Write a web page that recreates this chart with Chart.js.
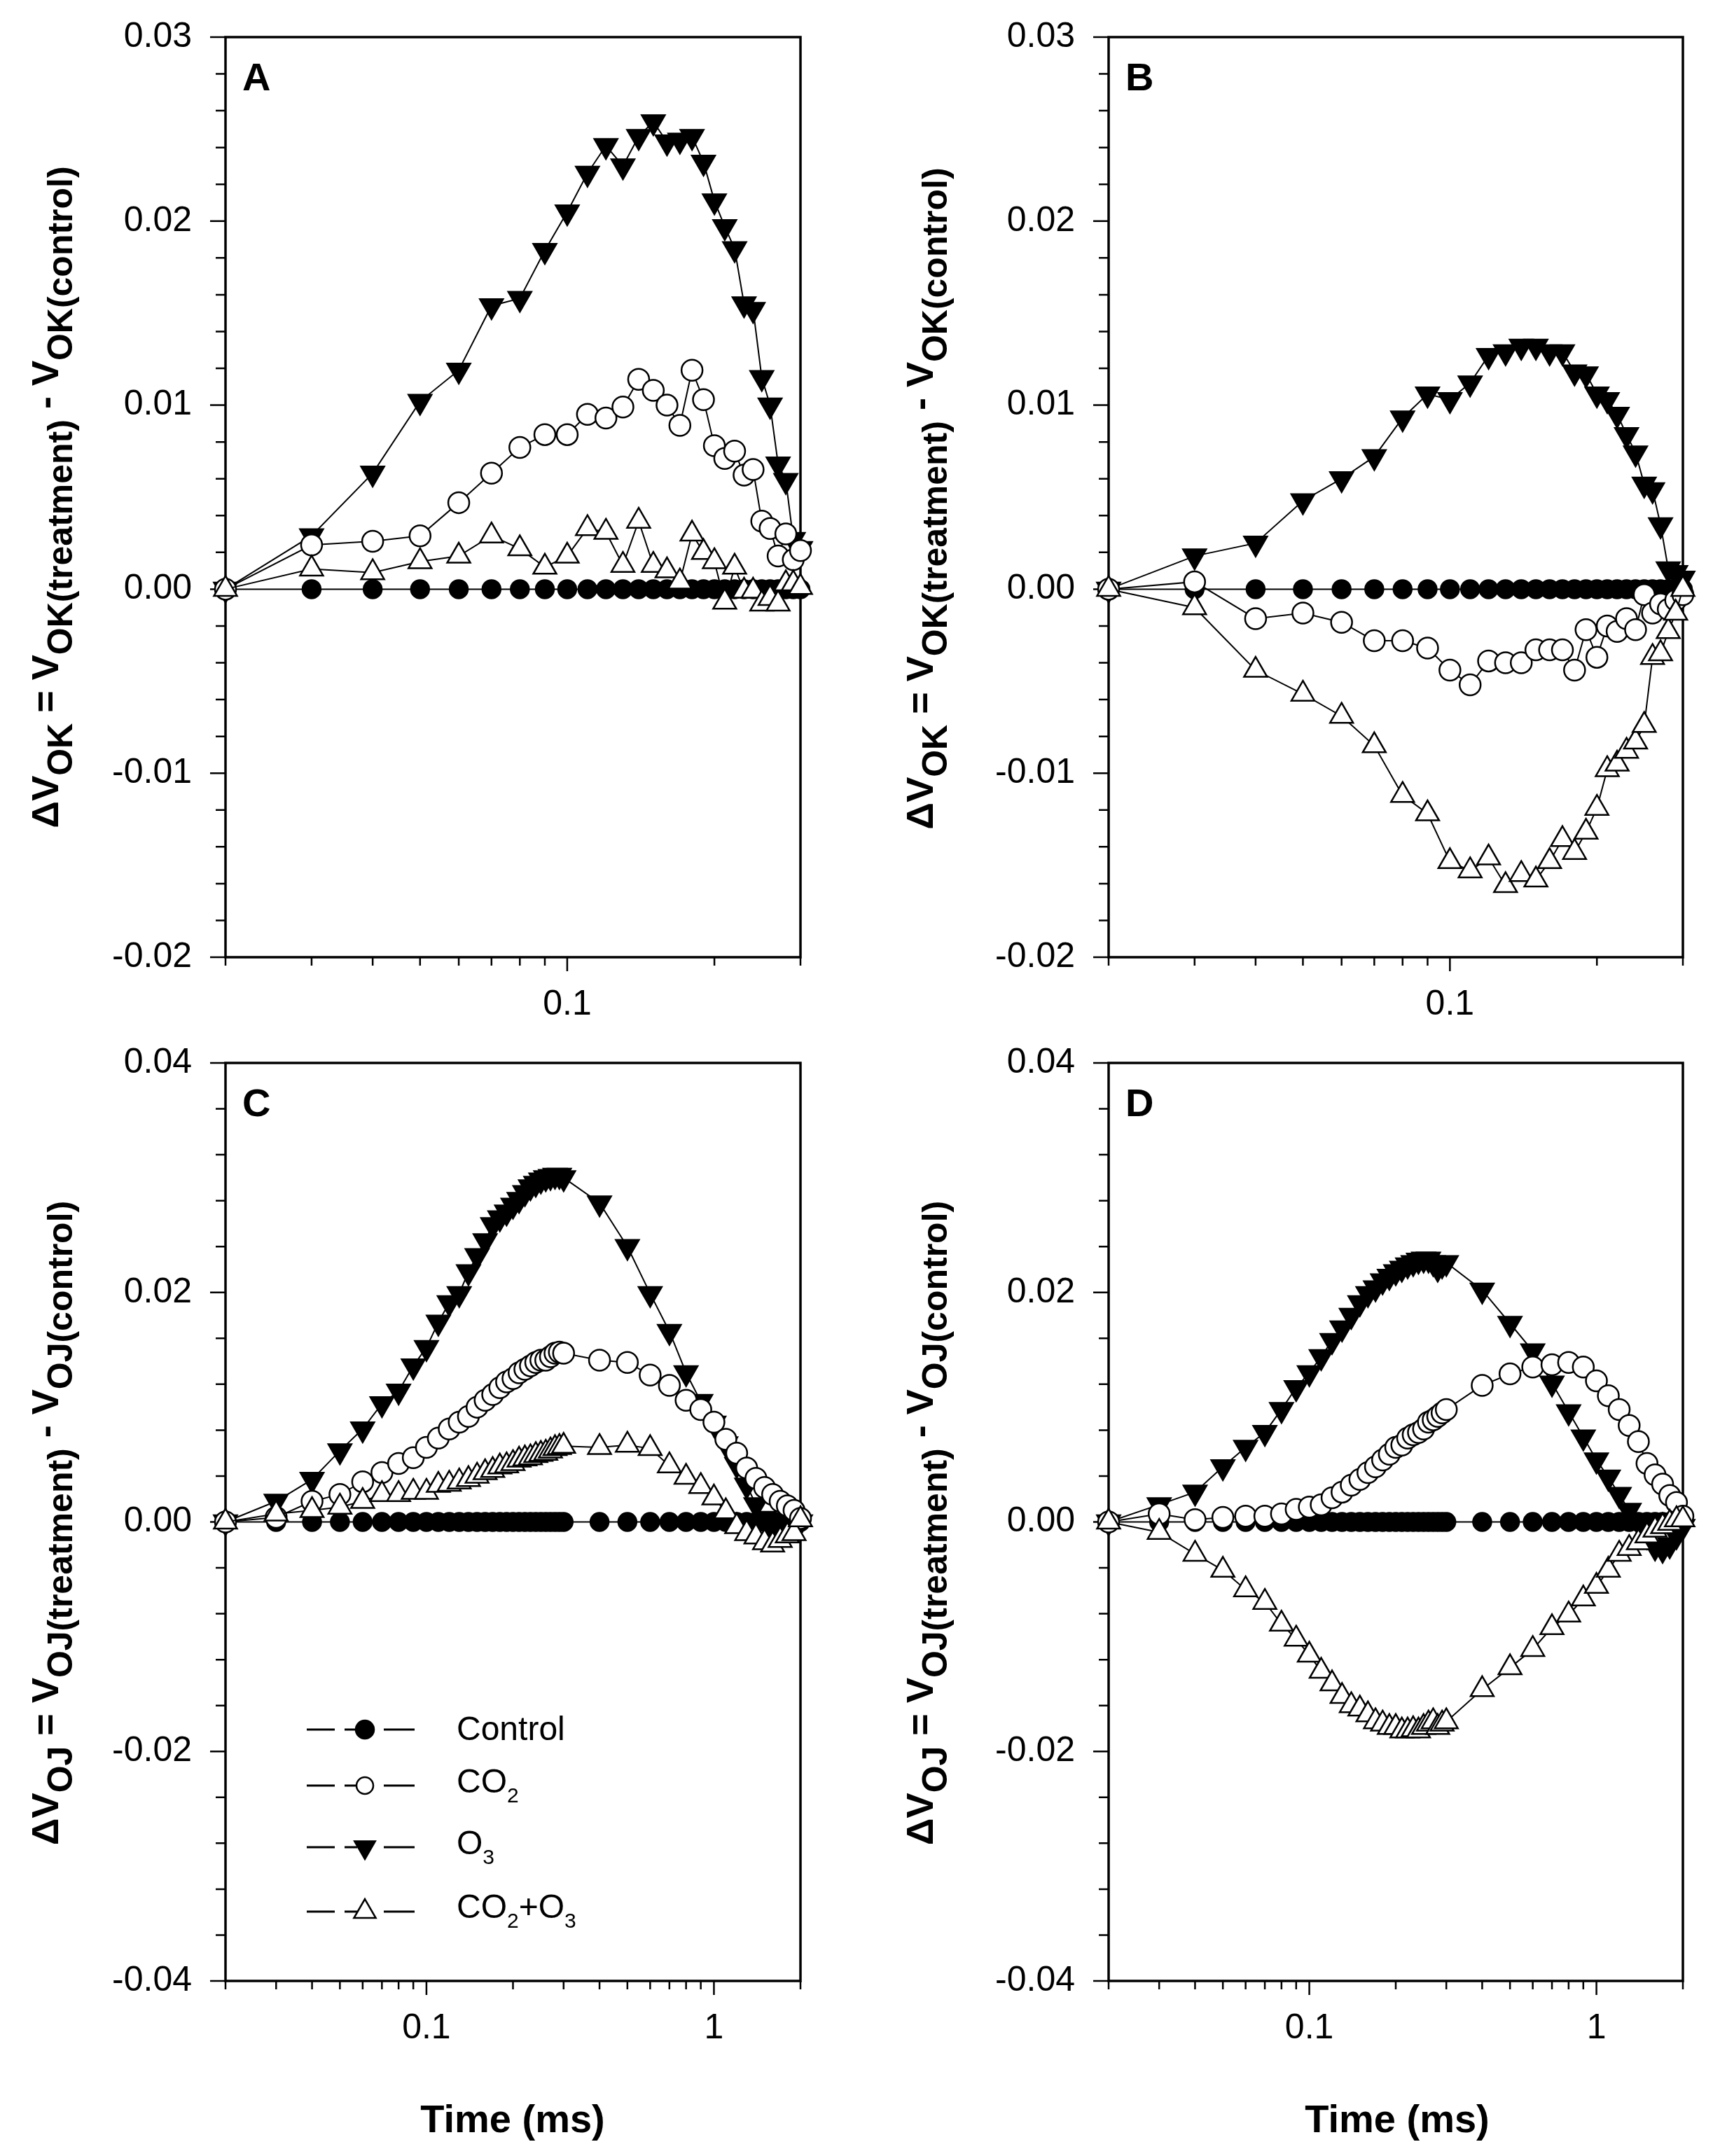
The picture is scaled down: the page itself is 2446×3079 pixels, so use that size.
<!DOCTYPE html>
<html>
<head>
<meta charset="utf-8">
<script src="https://cdn.jsdelivr.net/npm/chart.js@4.4.1/dist/chart.umd.min.js"></script>
<style>
  html, body { margin:0; padding:0; background:#fff; }
  body { width:2446px; height:3079px; position:relative; overflow:hidden; font-family:"Liberation Sans", Arial, sans-serif; color:#000; }
  canvas { position:absolute; }
  .ytitle { position:absolute; font-weight:bold; font-size:54px; line-height:1; white-space:nowrap;
            transform: translate(-50%,-50%) rotate(-90deg); }
  .ytitle .s { font-size:50px; position:relative; top:20px; }
  .xtitle { position:absolute; font-weight:bold; font-size:56px; line-height:1; white-space:nowrap;
            transform: translate(-50%,-50%); }
  .leg { position:absolute; font-size:48px; line-height:48px; white-space:nowrap; }
  .leg sub { font-size:30px; vertical-align:-14px; line-height:0; }
</style>
</head>
<body>
<canvas id="cA" width="1080" height="1500" style="left:140px;top:0px"></canvas>
<canvas id="cB" width="1046" height="1500" style="left:1400px;top:0px"></canvas>
<canvas id="cC" width="1080" height="1530" style="left:140px;top:1440px"></canvas>
<canvas id="cD" width="1046" height="1530" style="left:1400px;top:1440px"></canvas>

<div class="ytitle" style="left:64px;top:710px">&Delta;V<span class="s">OK</span> = V<span class="s">OK(treatment)</span> - V<span class="s">OK(control)</span></div>
<div class="ytitle" style="left:1313px;top:712px">&Delta;V<span class="s">OK</span> = V<span class="s">OK(treatment)</span> - V<span class="s">OK(control)</span></div>
<div class="ytitle" style="left:64px;top:2175px">&Delta;V<span class="s">OJ</span> = V<span class="s">OJ(treatment)</span> - V<span class="s">OJ(control)</span></div>
<div class="ytitle" style="left:1313px;top:2175px">&Delta;V<span class="s">OJ</span> = V<span class="s">OJ(treatment)</span> - V<span class="s">OJ(control)</span></div>

<div class="xtitle" style="left:732px;top:3026px">Time (ms)</div>
<div class="xtitle" style="left:1995px;top:3026px">Time (ms)</div>

<div class="leg" style="left:652px;top:2445px">Control</div>
<div class="leg" style="left:652px;top:2520px">CO<sub>2</sub></div>
<div class="leg" style="left:652px;top:2608px">O<sub>3</sub></div>
<div class="leg" style="left:652px;top:2699px">CO<sub>2</sub>+O<sub>3</sub></div>

<script>
// ---------------- DATA ----------------
const seriesNames = ["Control", "CO2", "O3", "CO2+O3"];

// time points (ms) for panels A, B (O-K phase)
const timeAB = [0.02,0.03,0.04,0.05,0.06,0.07,0.08,0.09,0.10,0.11,0.12,0.13,0.14,0.15,0.16,0.17,0.18,0.19,0.20,0.21,0.22,0.23,0.24,0.25,0.26,0.27,0.28,0.29,0.30];
// time points (ms) for panels C, D (O-J phase)
const timeCD = [0.02,0.03,0.04,0.05,0.06,0.07,0.08,0.09,0.10,0.11,0.12,0.13,0.14,0.15,0.16,0.17,0.18,0.19,0.20,0.21,0.22,0.23,0.24,0.25,0.26,0.27,0.28,0.29,0.30,
                0.4,0.5,0.6,0.7,0.8,0.9,1.0,1.1,1.2,1.3,1.4,1.5,1.6,1.7,1.8,1.9,2.0];

// Panel A
const aControl = [0,0,0,0,0,0,0,0,0,0,0,0,0,0,0,0,0,0,0,0,0,0,0,0,0,0,0,0,0];
const aCO2   = [0,0.0024,0.0026,0.0029,0.0047,0.0063,0.0077,0.0084,0.0084,0.0095,0.0093,0.0099,0.0114,0.0108,0.0100,0.0089,0.0119,0.0103,0.0078,0.0071,0.0075,0.0062,0.0065,0.0037,0.0033,0.0018,0.0030,0.0016,0.0021];
const aO3    = [0,0.0029,0.0063,0.0102,0.0119,0.0154,0.0158,0.0184,0.0205,0.0226,0.0241,0.0230,0.0246,0.0254,0.0243,0.0244,0.0246,0.0232,0.0211,0.0197,0.0185,0.0155,0.0152,0.0115,0.0100,0.0068,0.0059,0.0027,0.0022];
const aCO2O3 = [0,0.0011,0.0009,0.0015,0.0018,0.0029,0.0022,0.0012,0.0018,0.0033,0.0031,0.0013,0.0037,0.0013,0.0010,0.0004,0.0030,0.0020,0.0015,-0.0007,0.0012,-0.0001,-0.0001,-0.0008,-0.0005,-0.0008,0.0003,0.0003,0.0001];

// Panel B
const bControl = [0,0,0,0,0,0,0,0,0,0,0,0,0,0,0,0,0,0,0,0,0,0,0,0,0,0,0,0,0];
const bCO2   = [0,0.0004,-0.0016,-0.0013,-0.0018,-0.0028,-0.0028,-0.0032,-0.0044,-0.0052,-0.0039,-0.0040,-0.0040,-0.0033,-0.0033,-0.0033,-0.0044,-0.0022,-0.0037,-0.0020,-0.0023,-0.0016,-0.0022,-0.0003,-0.0013,-0.0008,-0.0011,-0.0006,-0.0003];
const bO3    = [0,0.0018,0.0025,0.0048,0.0060,0.0072,0.0093,0.0106,0.0103,0.0112,0.0127,0.0129,0.0132,0.0132,0.0129,0.0129,0.0118,0.0117,0.0106,0.0103,0.0095,0.0084,0.0074,0.0057,0.0054,0.0035,0.0011,0.0009,0.0006];
const bCO2O3 = [0,-0.0010,-0.0044,-0.0057,-0.0069,-0.0085,-0.0112,-0.0122,-0.0148,-0.0153,-0.0146,-0.0161,-0.0155,-0.0158,-0.0148,-0.0136,-0.0143,-0.0132,-0.0119,-0.0098,-0.0095,-0.0088,-0.0083,-0.0074,-0.0037,-0.0035,-0.0023,-0.0013,0];

// Panel C
const cControl = [0,0,0,0,0,0,0,0,0,0,0,0,0,0,0,0,0,0,0,0,0,0,0,0,0,0,0,0,0,0,0,0,0,0,0,0,0,0,0,0,0,0,0,0,0,0];
const cCO2   = [0,0.0004,0.0018,0.0024,0.0035,0.0043,0.0051,0.0056,0.0065,0.0073,0.0081,0.0087,0.0092,0.0100,0.0106,0.0111,0.0117,0.0122,0.0125,0.0130,0.0133,0.0136,0.0139,0.0141,0.0141,0.0144,0.0147,0.0148,0.0147,
                0.0141,0.0139,0.0128,0.0119,0.0106,0.0098,0.0087,0.0072,0.0060,0.0047,0.0038,0.0030,0.0024,0.0018,0.0014,0.0010,0.0003];
const cO3    = [0,0.0018,0.0037,0.0062,0.0081,0.0103,0.0114,0.0136,0.0152,0.0174,0.0191,0.0199,0.0218,0.0232,0.0245,0.0259,0.0265,0.0270,0.0276,0.0281,0.0287,0.0292,0.0295,0.0298,0.0300,0.0301,0.0302,0.0302,0.0300,
                0.0278,0.0240,0.0199,0.0166,0.0130,0.0105,0.0086,0.0068,0.0050,0.0032,0.0015,0.0003,-0.0005,-0.0009,-0.0009,-0.0005,0];
const cCO2O3 = [0,0.0007,0.0010,0.0013,0.0018,0.0024,0.0024,0.0026,0.0026,0.0032,0.0033,0.0035,0.0037,0.0040,0.0043,0.0045,0.0048,0.0049,0.0051,0.0054,0.0055,0.0056,0.0058,0.0059,0.0060,0.0062,0.0064,0.0065,0.0066,
                0.0065,0.0067,0.0064,0.0049,0.0039,0.0031,0.0021,0.0009,-0.0004,-0.0010,-0.0013,-0.0018,-0.0020,-0.0016,-0.0012,-0.0010,0.0002];

// Panel D
const dControl = [0,0,0,0,0,0,0,0,0,0,0,0,0,0,0,0,0,0,0,0,0,0,0,0,0,0,0,0,0,0,0,0,0,0,0,0,0,0,0,0,0,0,0,0,0,0];
const dCO2   = [0,0.0007,0.0002,0.0004,0.0005,0.0005,0.0007,0.0011,0.0013,0.0015,0.0021,0.0026,0.0032,0.0037,0.0043,0.0048,0.0054,0.0059,0.0065,0.0067,0.0073,0.0076,0.0078,0.0081,0.0087,0.0089,0.0092,0.0095,0.0098,
                0.0119,0.0129,0.0135,0.0137,0.0139,0.0135,0.0123,0.0110,0.0098,0.0084,0.0070,0.0051,0.0041,0.0033,0.0023,0.0017,0.0005];
const dO3    = [0,0.0015,0.0026,0.0048,0.0065,0.0078,0.0098,0.0117,0.0130,0.0144,0.0158,0.0169,0.0180,0.0191,0.0199,0.0204,0.0210,0.0214,0.0218,0.0221,0.0224,0.0226,0.0228,0.0229,0.0229,0.0226,0.0221,0.0224,0.0226,
                0.0202,0.0173,0.0149,0.0121,0.0096,0.0074,0.0054,0.0039,0.0024,0.0010,0.0000,-0.0012,-0.0022,-0.0024,-0.0020,-0.0012,-0.0004];
const dCO2O3 = [0,-0.0009,-0.0028,-0.0042,-0.0059,-0.0070,-0.0089,-0.0102,-0.0116,-0.0130,-0.0141,-0.0152,-0.0160,-0.0163,-0.0168,-0.0174,-0.0176,-0.0179,-0.0179,-0.0182,-0.0182,-0.0181,-0.0182,-0.0179,-0.0176,-0.0174,-0.0179,-0.0176,-0.0174,
                -0.0146,-0.0127,-0.0111,-0.0092,-0.0081,-0.0067,-0.0056,-0.0042,-0.0028,-0.0023,-0.0018,-0.0012,-0.0007,-0.0004,-0.0001,0.0002,0.0002];

// ticks
const xTicksAB = [0.02,0.03,0.04,0.05,0.06,0.07,0.08,0.09,0.1,0.2,0.3];
const xTicksCD = [0.02,0.03,0.04,0.05,0.06,0.07,0.08,0.09,0.1,0.2,0.3,0.4,0.5,0.6,0.7,0.8,0.9,1,2];
const xLabelTicks = [0.1, 1];
const yMajorAB = [-0.02,-0.01,0.00,0.01,0.02,0.03];
const yMajorCD = [-0.04,-0.02,0.00,0.02,0.04];
const yMinorStepAB = 0.002;
const yMinorStepCD = 0.004;

// ---------------- CHART ----------------
const FONT = '"Liberation Sans", Arial, sans-serif';
const YW = 180, XH = 130;

function buildYTicks(majors, step) {
  const lo = majors[0], hi = majors[majors.length - 1];
  const n = Math.round((hi - lo) / step);
  const out = [];
  for (let i = 0; i <= n; i++) out.push(Math.round((lo + i * step) * 10000) / 10000);
  return out;
}
const near = (a, b) => Math.abs(a - b) < 1e-9;
const isIn = (arr, v) => arr.some(m => near(m, v));

const framePlugin = {
  id: 'frame',
  beforeDatasetsDraw(chart, args, o) {
    const { ctx, chartArea: a } = chart;
    const x = chart.scales.x, y = chart.scales.y;
    ctx.save();
    ctx.strokeStyle = '#000';
    ctx.lineWidth = 2.5;
    ctx.beginPath();
    for (const v of o.xTicks) {
      const px = x.getPixelForValue(v);
      const len = isIn(xLabelTicks, v) ? 20 : 12;
      ctx.moveTo(px, a.bottom); ctx.lineTo(px, a.bottom + len);
    }
    for (const v of o.yTicks) {
      const py = y.getPixelForValue(v);
      const len = isIn(o.yMajor, v) ? 22 : 14;
      ctx.moveTo(a.left, py); ctx.lineTo(a.left - len, py);
    }
    ctx.stroke();
    ctx.lineWidth = 3.5;
    ctx.strokeRect(a.left, a.top, a.right - a.left, a.bottom - a.top);
    ctx.fillStyle = '#000';
    ctx.font = 'bold 56px ' + FONT;
    ctx.textBaseline = 'alphabetic';
    ctx.textAlign = 'left';
    ctx.fillText(o.letter, a.left + 24, a.top + 76);
    ctx.restore();
  }
};

function drawMarker(ctx, style, x, y, r, fill) {
  ctx.beginPath();
  if (style === 'circle') {
    ctx.arc(x, y, r, 0, Math.PI * 2);
  } else {
    const dir = style === 'down' ? -1 : 1;
    ctx.moveTo(x, y - dir * r);
    ctx.lineTo(x + r * 0.866, y + dir * r * 0.5);
    ctx.lineTo(x - r * 0.866, y + dir * r * 0.5);
    ctx.closePath();
  }
  ctx.fillStyle = fill ? '#000' : '#fff';
  ctx.fill();
  ctx.stroke();
}

const legendPlugin = {
  id: 'legendC',
  afterDatasetsDraw(chart, args, o) {
    if (!o.show) return;
    const ctx = chart.ctx;
    const ox = o.offX, oy = o.offY;
    const rows = [
      { y: 2470, style: 'circle', fill: true, r: 13 },
      { y: 2550, style: 'circle', fill: false, r: 12 },
      { y: 2638, style: 'down', fill: true, r: 17 },
      { y: 2730, style: 'up', fill: false, r: 18 }
    ];
    ctx.save();
    ctx.strokeStyle = '#000';
    for (const row of rows) {
      const yy = row.y - oy;
      ctx.lineWidth = 3;
      ctx.beginPath();
      ctx.moveTo(438 - ox, yy); ctx.lineTo(478 - ox, yy);
      ctx.moveTo(492 - ox, yy); ctx.lineTo(510 - ox, yy);
      ctx.moveTo(548 - ox, yy); ctx.lineTo(592 - ox, yy);
      ctx.stroke();
      ctx.lineWidth = 2.5;
      drawMarker(ctx, row.style, 521 - ox, yy, row.r, row.fill);
    }
    ctx.restore();
  }
};

function ds(label, time, vals, style, filled, order) {
  const tri = style !== 'circle';
  return {
    label: label,
    data: time.map((t, i) => ({ x: t, y: vals[i] })),
    borderColor: '#000',
    borderWidth: 2,
    backgroundColor: filled ? '#000' : '#fff',
    pointBackgroundColor: filled ? '#000' : '#fff',
    pointBorderColor: '#000',
    pointBorderWidth: 2.5,
    pointStyle: tri ? 'triangle' : 'circle',
    pointRotation: style === 'down' ? 180 : 0,
    pointRadius: tri ? 19 : (filled ? 13 : 15),
    tension: 0,
    fill: false,
    clip: false,
    order: order
  };
}

const hiddenGrid = (len) => ({
  display: true, drawOnChartArea: false, drawTicks: true, tickLength: len,
  color: 'rgba(0,0,0,0)', tickColor: 'rgba(0,0,0,0)', lineWidth: 0
});

function makePanel(id, cfg) {
  const canvas = document.getElementById(id);
  const cx = parseFloat(canvas.style.left), cy = parseFloat(canvas.style.top);
  const cw = canvas.width, ch = canvas.height;
  const yTicks = buildYTicks(cfg.yMajor, cfg.yStep);
  const ymin = cfg.yMajor[0], ymax = cfg.yMajor[cfg.yMajor.length - 1];
  new Chart(canvas, {
    type: 'line',
    data: {
      datasets: [
        ds(seriesNames[0], cfg.time, cfg.series[0], 'circle', true, 4),
        ds(seriesNames[1], cfg.time, cfg.series[1], 'circle', false, 2),
        ds(seriesNames[2], cfg.time, cfg.series[2], 'down', true, 3),
        ds(seriesNames[3], cfg.time, cfg.series[3], 'up', false, 1)
      ]
    },
    options: {
      responsive: false,
      animation: false,
      devicePixelRatio: 1,
      events: [],
      layout: {
        padding: {
          left: cfg.area.l - cx - YW,
          top: cfg.area.t - cy,
          right: cx + cw - cfg.area.r,
          bottom: cy + ch - cfg.area.b - XH
        }
      },
      plugins: {
        legend: { display: false },
        tooltip: { enabled: false },
        frame: { xTicks: cfg.xTicks, yTicks: yTicks, yMajor: cfg.yMajor, letter: cfg.letter },
        legendC: { show: !!cfg.legend, offX: cx, offY: cy }
      },
      scales: {
        x: {
          type: 'logarithmic',
          min: cfg.xmin, max: cfg.xmax,
          grid: hiddenGrid(32),
          border: { display: false },
          afterBuildTicks: s => { s.ticks = cfg.xTicks.map(v => ({ value: v })); },
          afterFit: s => { s.height = XH; },
          ticks: {
            autoSkip: false, maxRotation: 0, minRotation: 0,
            padding: 6, color: '#000',
            font: { family: FONT, size: 50 },
            callback: v => isIn(xLabelTicks, v) ? String(v) : ''
          }
        },
        y: {
          type: 'linear',
          min: ymin, max: ymax,
          grid: hiddenGrid(40),
          border: { display: false },
          afterBuildTicks: s => { s.ticks = yTicks.map(v => ({ value: v })); },
          afterFit: s => { s.width = YW; },
          ticks: {
            autoSkip: false, padding: 8, color: '#000',
            font: { family: FONT, size: 50 },
            callback: v => isIn(cfg.yMajor, v) ? Number(v).toFixed(2) : ''
          }
        }
      }
    },
    plugins: [framePlugin, legendPlugin]
  });
}

makePanel('cA', { letter: 'A', time: timeAB, series: [aControl, aCO2, aO3, aCO2O3],
  area: { l: 322, t: 53, r: 1143, b: 1367 }, xmin: 0.02, xmax: 0.3, xTicks: xTicksAB, yMajor: yMajorAB, yStep: yMinorStepAB });
makePanel('cB', { letter: 'B', time: timeAB, series: [bControl, bCO2, bO3, bCO2O3],
  area: { l: 1583, t: 53, r: 2403, b: 1367 }, xmin: 0.02, xmax: 0.3, xTicks: xTicksAB, yMajor: yMajorAB, yStep: yMinorStepAB });
makePanel('cC', { letter: 'C', time: timeCD, series: [cControl, cCO2, cO3, cCO2O3], legend: true,
  area: { l: 322, t: 1518, r: 1143, b: 2829 }, xmin: 0.02, xmax: 2, xTicks: xTicksCD, yMajor: yMajorCD, yStep: yMinorStepCD });
makePanel('cD', { letter: 'D', time: timeCD, series: [dControl, dCO2, dO3, dCO2O3],
  area: { l: 1583, t: 1518, r: 2403, b: 2829 }, xmin: 0.02, xmax: 2, xTicks: xTicksCD, yMajor: yMajorCD, yStep: yMinorStepCD });
</script>
</body>
</html>
